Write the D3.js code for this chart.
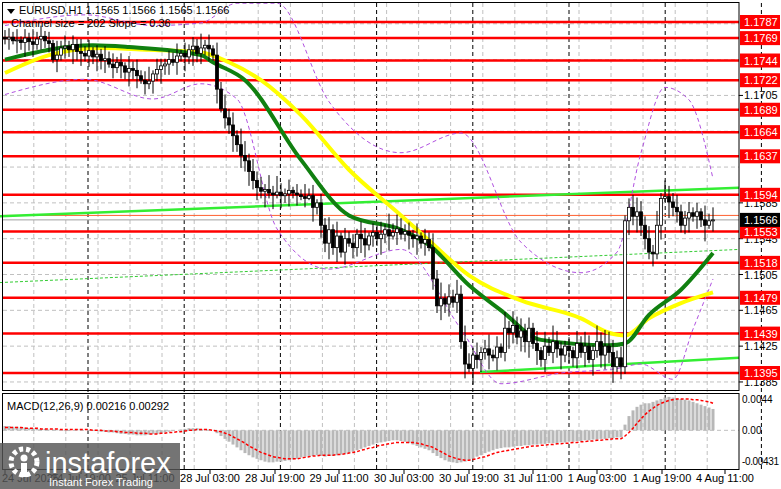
<!DOCTYPE html>
<html><head><meta charset="utf-8">
<script src="https://cdn.jsdelivr.net/npm/d3@7"></script>
<style>body{margin:0;background:#fff}svg{display:block;font-family:"Liberation Sans",Arial,sans-serif}</style>
</head><body><svg id="c" width="781" height="489"></svg>
<script>
// closes in pips above 1.1000
const closes=[768,770,766,767,764,769,765,762,768,771,766,763,
745,750,758,760,756,762,754,752,749,755,
748,751,744,746,740,736,742,738,731,735,733,727,722,718,721,
729,734,738,740,745,742,749,752,748,
756,760,752,758,761,757,750,
712,690,680,672,
660,650,638,632,620,610,602,
598,600,596,594,597,593,595,599,596,594,592,590,593,
580,585,560,540,555,535,548,530,545,
540,535,550,545,538,548,552,545,550,555,548,552,556,550,553,549,
545,548,540,544,535,
500,470,478,472,480,474,483,430,
405,400,415,410,418,422,415,412,424,
418,445,440,448,435,442,430,445,
428,420,410,425,418,430,422,415,425,420,412,428,418,425,410,420,430,415,425,418,402,412,402,
565,580,570,575,560,545,530,528,560,590,592,586,580,575,560,568,574,570,575,566,560,565,566];
const wickUp="4536253746352846353746253746352746358264354726354836274857398475638495362537462547382645376254739586453726485937485964735836294857463728596435274863959874635786574839657446352847";
const wickDn="3627485736452736485736485726374857263748562738495647382659476857493827473625184759483726587364958273485937264857364829574827359648693847265847563829478693748596647382956458374926";
const macdHist=[6,6,5,5,4,4,3,3,2,2,2,1,
1,1,0,-1,-1,0,1,1,0,0,
-1,-1,-2,-2,-3,-3,-4,-5,-5,-6,-6,-7,-7,-7,-6,
-5,-5,-4,-3,-2,-1,0,1,2,
3,3,3,2,2,1,0,
-4,-8,-12,-16,
-20,-24,-28,-32,-35,-38,-40,
-42,-44,-45,-45,-44,-44,-43,-42,-41,-40,-38,-37,-36,
-36,-35,-36,-37,-36,-36,-35,-34,-33,
-32,-30,-28,-26,-24,-22,-20,-18,-17,-16,-15,-14,-14,-15,-16,-18,
-20,-22,-24,-26,-28,
-32,-36,-39,-42,-44,-45,-46,-45,
-44,-42,-40,-37,-35,-32,-30,-28,-26,
-25,-24,-24,-23,-22,-22,-21,-21,
-20,-20,-19,-19,-18,-18,-18,-17,-17,-16,-16,-15,-15,-14,-14,-13,-13,-12,-12,-11,-11,-10,-10,
8,20,28,33,36,38,38,40,42,44,46,47,46,45,44,43,42,40,38,36,34,32,30];
const macdSignal=[4,4,4,4,4,3,3,3,3,2,2,2,
2,2,1,1,1,1,1,1,1,1,
0,0,0,-1,-1,-1,-2,-2,-3,-3,-3,-4,-4,-4,-5,
-5,-5,-4,-4,-3,-3,-2,-2,-1,
0,0,1,1,1,1,0,
-1,-2,-4,-6,
-9,-12,-15,-18,-22,-25,-28,
-31,-33,-35,-37,-38,-39,-40,-40,-40,-40,-39,-38,-37,
-36,-36,-35,-35,-35,-35,-34,-34,-33,
-32,-31,-30,-28,-27,-25,-24,-22,-21,-20,-19,-18,-17,-17,-17,-17,
-17,-18,-19,-21,-22,
-24,-27,-30,-33,-36,-38,-40,-41,
-42,-42,-41,-40,-38,-37,-35,-33,-31,
-30,-29,-28,-27,-26,-25,-24,-23,
-22,-22,-21,-21,-20,-20,-19,-19,-18,-18,-17,-17,-16,-16,-15,-15,-14,-14,-13,-13,-12,-12,-12,
-8,-3,3,10,16,22,27,31,35,38,40,42,43,44,44,44,44,43,43,42,41,40,38];
// moving averages: [bar index, pips]
const greenMA=[[0,745],[22,761],[31,759],[49,750],[52,742],[60,722],[74,633],[86,571],[99,555],[106,538],[116,493],[124,465],[134,432],[151,426],[155,428],[161,460],[169,488],[177,529]];
const yellowMA=[[0,730],[11,750],[24,758],[36,756],[49,753],[56,742],[64,722],[74,683],[86,622],[99,571],[106,543],[116,504],[129,476],[144,456],[151,440],[155,437],[161,456],[169,473],[177,485]];
const purpleUp=[[0,783],[20,795],[37,783],[49,786],[58,808],[68,808],[81,698],[99,641],[114,663],[129,541],[144,507],[153,530],[159,641],[165,714],[171,700],[177,612]];
const purpleDn=[[0,706],[20,723],[37,701],[49,718],[58,701],[68,556],[81,511],[99,533],[114,444],[124,383],[139,395],[153,400],[159,405],[167,388],[172,444],[177,500]];
const levels=[1.1787,1.1769,1.1744,1.1722,1.1689,1.1664,1.1637,1.1594,1.1553,1.1518,1.1479,1.1439,1.1395];
const priceTicks=[1.1705,1.1585,1.1545,1.1505,1.1465,1.1425,1.1385];
const timeLabels=[["24 Jul 2025",0],["24 Jul 19:00",19],["25 Jul 11:00",35],["28 Jul 03:00",51.25],["28 Jul 19:00",67.5],["29 Jul 11:00",83.5],["30 Jul 03:00",99.75],["30 Jul 19:00",116],["31 Jul 11:00",132],["1 Aug 03:00",148],["1 Aug 19:00",164.25],["4 Aug 11:00",180]];
const macdTicks=[["0.0044",0.0044],["0.00",0],["-0.00431",-0.00431]];

const svg=d3.select("#c");
const x=d3.scaleLinear().domain([0,1]).range([5,9]);
const y=d3.scaleLinear().domain([1.1787,1.1395]).range([22,373]);
const yp=p=>y(1.1+p/10000);
const ym=d3.scaleLinear().domain([0.0044,-0.00431]).range([399,461]);
const W=739;
const g=svg.append("g");
for(let d=-1;d<8;d++){const bx=88+96.2*d;
  if(bx>3)g.append("line").attr("x1",bx).attr("x2",bx).attr("y1",3).attr("y2",470).attr("stroke","#000").attr("stroke-dasharray","4,3");
  [10,42,74].forEach(o=>{const gx=bx+o;if(gx>3&&gx<W)g.append("line").attr("x1",gx).attr("x2",gx).attr("y1",3).attr("y2",470).attr("stroke","#c0c0c0").attr("stroke-dasharray","4,3");});}
[1.1785,1.1745,1.1705,1.1665,1.1625,1.1585,1.1545,1.1505,1.1465,1.1425,1.1385].forEach(p=>g.append("line").attr("x1",3).attr("x2",W).attr("y1",y(p)).attr("y2",y(p)).attr("stroke","#c0c0c0").attr("stroke-dasharray","4,3"));
g.append("line").attr("x1",3).attr("x2",W).attr("y1",ym(0)).attr("y2",ym(0)).attr("stroke","#c0c0c0").attr("stroke-dasharray","4,3");
levels.forEach(l=>svg.append("line").attr("x1",3).attr("x2",W).attr("y1",y(l)).attr("y2",y(l)).attr("stroke","#ff0000").attr("stroke-width",2.5));
svg.append("line").attr("x1",3).attr("x2",W).attr("y1",yp(571)).attr("y2",yp(571)).attr("stroke","#ff6030").attr("stroke-width",1);
svg.append("line").attr("x1",3).attr("x2",W).attr("y1",yp(566)).attr("y2",yp(566)).attr("stroke","#a0a0a0").attr("stroke-width",1);
const ln=d3.line().x(d=>x(d[0])).y(d=>yp(d[1]));
svg.append("path").attr("d",ln([[-1.25,570],[183.5,602]])).attr("stroke","#33ee33").attr("stroke-width",2.5).attr("fill","none");
svg.append("path").attr("d",ln([[118.75,396],[183.5,412]])).attr("stroke","#33ee33").attr("stroke-width",2.5).attr("fill","none");
svg.append("path").attr("d",ln([[-1.25,496],[183.5,533]])).attr("stroke","#33cc33").attr("stroke-width",1).attr("stroke-dasharray","3,2").attr("fill","none");
const cl=d3.line().curve(d3.curveMonotoneX).x(d=>x(d[0])).y(d=>yp(d[1]));
[purpleUp,purpleDn].forEach(a=>svg.append("path").attr("d",cl(a)).attr("stroke","#b050e0").attr("stroke-width",1).attr("stroke-dasharray","4,3").attr("fill","none"));
svg.append("path").attr("d",cl(yellowMA)).attr("stroke","#ffff00").attr("stroke-width",4).attr("fill","none");
svg.append("path").attr("d",cl(greenMA)).attr("stroke","#108010").attr("stroke-width",4).attr("fill","none");
let prev=closes[0]+2;
closes.forEach((c,i)=>{
  const o=prev;prev=c;
  const hi=Math.max(o,c)+(+wickUp[i])*2, lo=Math.min(o,c)-(+wickDn[i])*2;
  const cx=x(i);
  svg.append("line").attr("x1",cx).attr("x2",cx).attr("y1",yp(hi)).attr("y2",yp(lo)).attr("stroke","#000");
  const top=yp(Math.max(o,c)),bot=yp(Math.min(o,c));
  svg.append("rect").attr("x",cx-1.5).attr("y",top).attr("width",3).attr("height",Math.max(1,bot-top)).attr("fill",c>=o?"#fff":"#000").attr("stroke","#000").attr("stroke-width",0.8);
});
macdHist.forEach((v,i)=>{const a=ym(v/10000),b=ym(0);svg.append("rect").attr("x",x(i)-1.5).attr("y",Math.min(a,b)).attr("width",3).attr("height",Math.abs(a-b)).attr("fill","#b8b8b8");});
svg.append("path").attr("d",d3.line().x((d,i)=>x(i)).y(d=>ym(d/10000))(macdSignal)).attr("stroke","#ff0000").attr("stroke-width",1.5).attr("stroke-dasharray","3,2").attr("fill","none");
svg.append("rect").attr("x",2.5).attr("y",2.5).attr("width",W-2.5).attr("height",388).attr("fill","none").attr("stroke","#000");
svg.append("rect").attr("x",2.5).attr("y",393.5).attr("width",W-2.5).attr("height",76).attr("fill","none").attr("stroke","#000");
priceTicks.forEach(p=>{svg.append("line").attr("x1",W).attr("x2",W+4).attr("y1",y(p)).attr("y2",y(p)).attr("stroke","#000");svg.append("text").attr("x",744).attr("y",y(p)+4).attr("font-size",11).text(p.toFixed(4));});
levels.forEach(l=>{svg.append("rect").attr("x",740).attr("y",y(l)-7).attr("width",40).attr("height",14).attr("fill","#ff0000");svg.append("text").attr("x",744).attr("y",y(l)+4).attr("font-size",11).attr("fill","#fff").text(l.toFixed(4));});
svg.append("rect").attr("x",740).attr("y",yp(566)-7).attr("width",40).attr("height",14).attr("fill","#000");
svg.append("text").attr("x",744).attr("y",yp(566)+4).attr("font-size",11).attr("fill","#fff").text("1.1566");
macdTicks.forEach(([t,v])=>svg.append("text").attr("x",742).attr("y",ym(v)+4).attr("font-size",10).attr("textLength",t.length>6?37:null).text(t));
timeLabels.forEach(([t,i],k)=>{svg.append("text").attr("x",k==0?2:x(i)).attr("y",482).attr("font-size",11).attr("text-anchor",k==0?"start":"middle").text(t);svg.append("line").attr("x1",x(i)).attr("x2",x(i)).attr("y1",470).attr("y2",474).attr("stroke","#000");});
svg.append("path").attr("d","M7,9 L15,9 L11,14 Z").attr("fill","#000");
svg.append("text").attr("x",19).attr("y",14).attr("font-size",11).text("EURUSD,H1  1.1565 1.1566 1.1565 1.1566");
svg.append("text").attr("x",11).attr("y",27).attr("font-size",11).text("Channel size = 202 Slope = 0.36");
svg.append("text").attr("x",7).attr("y",410).attr("font-size",11).text("MACD(12,26,9) 0.00216 0.00292");
svg.append("rect").attr("x",0).attr("y",443).attr("width",180).attr("height",46).attr("fill","#555").attr("opacity",0.82);
const lg=svg.append("g").attr("fill","#fff");
lg.append("circle").attr("cx",24).attr("cy",462).attr("r",13).attr("fill","none").attr("stroke","#fff").attr("stroke-width",5).attr("stroke-dasharray","4,3");
lg.append("circle").attr("cx",24).attr("cy",458).attr("r",3.5);
lg.append("rect").attr("x",21).attr("y",463).attr("width",6).attr("height",14);
lg.append("text").attr("x",45).attr("y",473).attr("font-size",29).text("instaforex");
lg.append("text").attr("x",49).attr("y",486).attr("font-size",11).text("Instant Forex Trading");
</script></body></html>
